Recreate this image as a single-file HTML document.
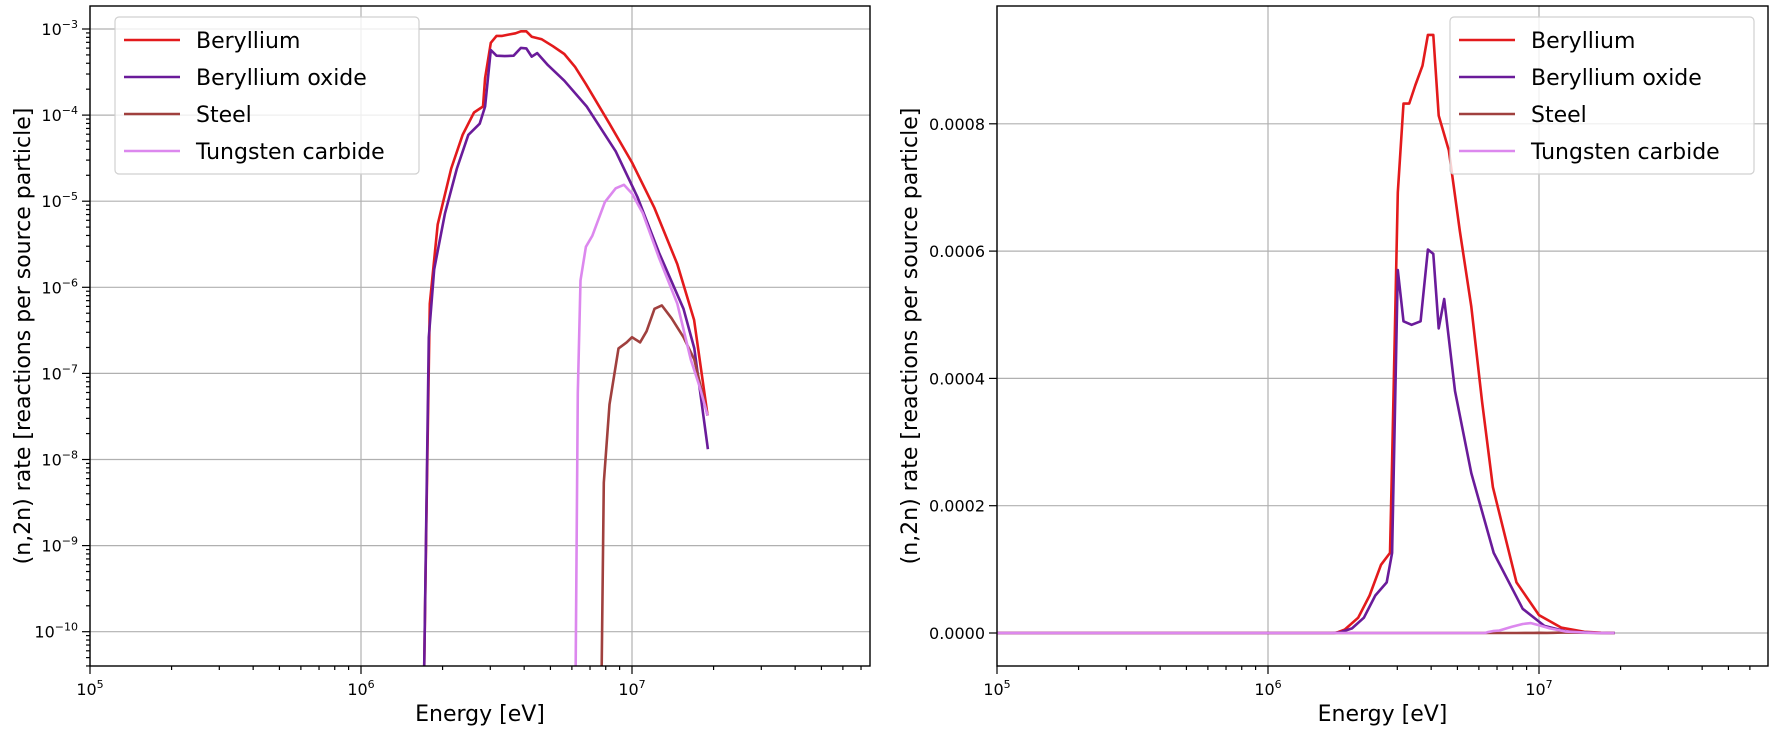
<!DOCTYPE html>
<html><head><meta charset="utf-8"><style>
html,body{margin:0;padding:0;background:#fff;}
svg{display:block;font-family:"DejaVu Sans","Liberation Sans",sans-serif;}
</style></head><body>
<svg id="s" width="1772" height="742" viewBox="0 0 1772 742" xmlns="http://www.w3.org/2000/svg"></svg>
<script>
const S=document.getElementById('s');let h='';
const series=[
 {c:'#e31a1c',d:[[6.233,-10.5],[6.242,-8.54],[6.254,-6.19],[6.283,-5.27],[6.333,-4.62],[6.375,-4.23],[6.417,-3.97],[6.45,-3.9],[6.458,-3.57],[6.479,-3.16],[6.5,-3.08],[6.521,-3.08],[6.544,-3.065],[6.57,-3.05],[6.59,-3.027],[6.61,-3.027],[6.63,-3.09],[6.667,-3.12],[6.708,-3.2],[6.75,-3.29],[6.79,-3.44],[6.83,-3.64],[6.917,-4.1],[7.0,-4.55],[7.083,-5.08],[7.167,-5.73],[7.229,-6.38],[7.279,-7.49]]},
 {c:'#6a1b9a',d:[[6.233,-10.5],[6.25,-6.58],[6.27,-5.79],[6.31,-5.14],[6.354,-4.62],[6.396,-4.23],[6.438,-4.1],[6.458,-3.9],[6.479,-3.244],[6.5,-3.31],[6.53,-3.315],[6.563,-3.31],[6.59,-3.22],[6.61,-3.225],[6.63,-3.32],[6.65,-3.28],[6.69,-3.42],[6.75,-3.6],[6.833,-3.9],[6.94,-4.42],[7.02,-4.95],[7.1,-5.6],[7.19,-6.25],[7.23,-6.71],[7.28,-7.88]]},
 {c:'#a0403e',d:[[6.888,-10.5],[6.896,-8.27],[6.917,-7.36],[6.95,-6.71],[6.98,-6.64],[7.0,-6.58],[7.03,-6.64],[7.054,-6.51],[7.083,-6.25],[7.11,-6.21],[7.146,-6.36],[7.19,-6.58],[7.23,-6.84],[7.279,-7.49]]},
 {c:'#dc88ee',d:[[6.792,-10.5],[6.8,-7.23],[6.81,-5.92],[6.83,-5.53],[6.854,-5.4],[6.9,-5.01],[6.94,-4.85],[6.97,-4.81],[7.0,-4.91],[7.04,-5.14],[7.1,-5.66],[7.167,-6.19],[7.217,-6.84],[7.25,-7.16],[7.279,-7.49]]}
];
const names=['Beryllium','Beryllium oxide','Steel','Tungsten carbide'];
const YT=6,YB=666,DEC=271;
function axes(X0,X1,yticks){
 const xf=l=>X0+(l-5)*DEC;
 for(const l of [5,6,7]){const x=xf(l);h+=`<line x1="${x}" y1="${YT}" x2="${x}" y2="${YB}" stroke="#b0b0b0" stroke-width="1.2"/>`;}
 for(const t of yticks){const y=t.y;h+=`<line x1="${X0}" y1="${y}" x2="${X1}" y2="${y}" stroke="#b0b0b0" stroke-width="1.2"/>`;}
 return xf;
}
function xticks(X0,X1){
 for(let d=5;d<=7;d++){for(let m=1;m<=9;m++){const l=d+Math.log10(m);const x=X0+(l-5)*DEC;if(x>X1)continue;
  h+=`<line x1="${x}" y1="${YB}" x2="${x}" y2="${YB+(m==1?8:4)}" stroke="#000" stroke-width="1.2"/>`;
  if(m==1)h+=`<text x="${x}" y="${YB+29}" font-size="16" text-anchor="middle">10<tspan dy="-7" font-size="11">${d}</tspan></text>`;}}
}
function legend(x,y){
 h+=`<rect x="${x}" y="${y}" width="304" height="157" rx="4" fill="#fff" fill-opacity="0.8" stroke="#d0d0d0" stroke-width="1.2"/>`;
 series.forEach((s,i)=>{const yy=y+23+i*37;h+=`<line x1="${x+9}" y1="${yy}" x2="${x+65}" y2="${yy}" stroke="${s.c}" stroke-width="2.6"/><text x="${x+81}" y="${yy+8}" font-size="22">${names[i]}</text>`;});
}
// LEFT
{const X0=90,X1=870;const yf=v=>29+(-3-v)*86.1;
 const yt=[];for(let e=-3;e>=-10;e--)yt.push({y:yf(e),e});
 const xf=axes(X0,X1,yt);
 h+=`<clipPath id="c1"><rect x="${X0}" y="${YT}" width="${X1-X0}" height="${YB-YT}"/></clipPath><g clip-path="url(#c1)">`;
 for(const s of series){h+=`<polyline fill="none" stroke="${s.c}" stroke-width="2.6" stroke-linejoin="round" points="${s.d.map(p=>xf(p[0]).toFixed(1)+','+yf(p[1]).toFixed(1)).join(' ')}"/>`;}
 h+='</g>';
 for(let e=-2;e>=-11;e--)for(let m=1;m<=9;m++){const y=yf(e+Math.log10(m));if(y<YT||y>YB)continue;h+=`<line x1="${X0}" y1="${y}" x2="${X0-(m==1?8:4)}" y2="${y}" stroke="#000" stroke-width="1.2"/>`;}
 for(const t of yt)h+=`<text x="${X0-12}" y="${t.y+6}" font-size="16" text-anchor="end">10<tspan dy="-7" font-size="11">${'−'+(-t.e)}</tspan></text>`;
 h+=`<rect x="${X0}" y="${YT}" width="${X1-X0}" height="${YB-YT}" fill="none" stroke="#000" stroke-width="1.4"/>`;
 xticks(X0,X1);
 h+=`<text x="${(X0+X1)/2}" y="721" font-size="22" text-anchor="middle">Energy [eV]</text>`;
 h+=`<text transform="translate(30,336) rotate(-90)" font-size="22" text-anchor="middle">(n,2n) rate [reactions per source particle]</text>`;
 legend(115,17);
}
// RIGHT
{const X0=997,X1=1768;const yf=v=>633-v/0.0002*127.3;
 const yt=[0,0.0002,0.0004,0.0006,0.0008].map(v=>({y:yf(v),v}));
 const xf=axes(X0,X1,yt);
 h+=`<clipPath id="c2"><rect x="${X0}" y="${YT}" width="${X1-X0}" height="${YB-YT}"/></clipPath><g clip-path="url(#c2)">`;
 for(const s of series){const pts=[[5,0],[s.d[0][0],0]].concat(s.d.map(p=>[p[0],Math.pow(10,p[1])]));
  h+=`<polyline fill="none" stroke="${s.c}" stroke-width="2.6" stroke-linejoin="round" points="${pts.map(p=>xf(p[0]).toFixed(1)+','+yf(p[1]).toFixed(1)).join(' ')}"/>`;}
 h+='</g>';
 for(const t of yt){h+=`<line x1="${X0}" y1="${t.y}" x2="${X0-8}" y2="${t.y}" stroke="#000" stroke-width="1.2"/><text x="${X0-12}" y="${t.y+6}" font-size="16" text-anchor="end">${t.v.toFixed(4)}</text>`;}
 h+=`<rect x="${X0}" y="${YT}" width="${X1-X0}" height="${YB-YT}" fill="none" stroke="#000" stroke-width="1.4"/>`;
 xticks(X0,X1);
 h+=`<text x="${(X0+X1)/2}" y="721" font-size="22" text-anchor="middle">Energy [eV]</text>`;
 h+=`<text transform="translate(917,336) rotate(-90)" font-size="22" text-anchor="middle">(n,2n) rate [reactions per source particle]</text>`;
 legend(1450,17);
}
S.innerHTML=h;
</script>
</body></html>
